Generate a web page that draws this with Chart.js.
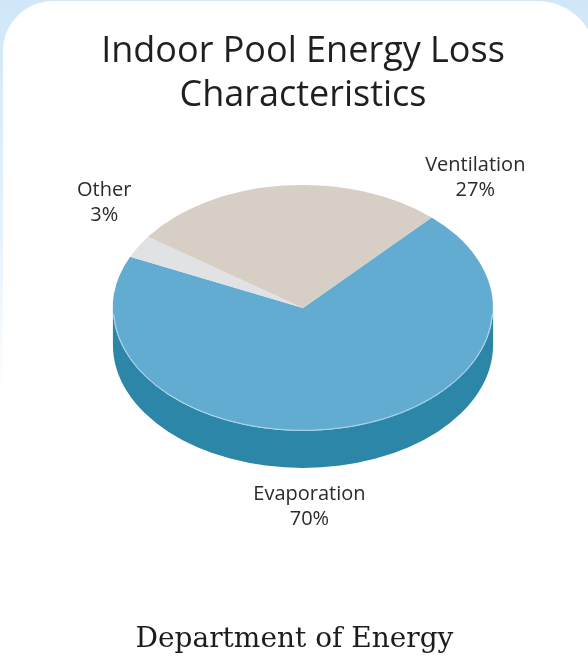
<!DOCTYPE html>
<html>
<head>
<meta charset="utf-8">
<script src="https://cdn.jsdelivr.net/npm/chart.js@4.4.1/dist/chart.umd.min.js"></script>
<style>
  html, body { margin: 0; padding: 0; }
  body {
    width: 588px; height: 666px; overflow: hidden; position: relative;
    background: linear-gradient(to bottom, #cfe7f8 0%, #e6f2fb 35%, #ffffff 60%);
  }
  .card {
    position: absolute; left: 3px; top: 1px; width: 594px; height: 700px;
    background: #ffffff; border-radius: 50px 60px 0 0;
  }
  canvas { position: absolute; left: 0; top: 0; }
  .source {
    position: absolute; left: 0; top: 624px; width: 589px; text-align: center;
    font: 28px/28px "DejaVu Serif", serif; color: #1c1c1c;
  }
</style>
</head>
<body>
<div class="card"></div>
<canvas id="pie" width="588" height="666"></canvas>
<div class="source">Department of Energy</div>
<script>
// data
const labels = ['Evaporation', 'Other', 'Ventilation'];
const values = [70, 3, 27];

// look
const topColors = ['#62acd1', '#e1e2e4', '#d7cec5'];
const sideColors = ['#2c86a8', '#b9babd', '#b3a89d'];
const labelAngles = [88.5, 220, -50]; // degrees, where each label sits round the pie
const labelDistance = [1.29, 1.365, 1.41]; // in pie radii
const squash = 0.647;
const depth = 37;

const ctx = document.getElementById('pie').getContext('2d');

function ellipseOf(arc) {
  return { cx: arc.x, cy: arc.y, rx: arc.outerRadius, ry: arc.outerRadius * squash };
}

// draws the depth of the pie and squashes the top face
const tiltPie = {
  id: 'tiltPie',
  beforeDatasetsDraw(chart) {
    const c = chart.ctx;
    const arcs = chart.getDatasetMeta(0).data;
    const TWO = Math.PI * 2;
    arcs.forEach((arc, i) => {
      const e = ellipseOf(arc);
      let s = arc.startAngle % TWO;
      if (s < 0) s += TWO;
      const end = s + (arc.endAngle - arc.startAngle);
      [[0, Math.PI], [TWO, TWO + Math.PI]].forEach(([lo, hi]) => {
        const a0 = Math.max(s, lo), a1 = Math.min(end, hi);
        if (a1 <= a0) return;
        c.save();
        c.beginPath();
        c.ellipse(e.cx, e.cy + depth, e.rx, e.ry, 0, a0, a1);
        c.ellipse(e.cx, e.cy, e.rx, e.ry, 0, a1, a0, true);
        c.closePath();
        c.fillStyle = sideColors[i];
        c.fill();
        c.restore();
      });
    });
    const e = ellipseOf(arcs[0]);
    c.save();
    c.translate(e.cx, e.cy);
    c.scale(1, squash);
    c.translate(-e.cx, -e.cy);
  },
  afterDatasetsDraw(chart) {
    const c = chart.ctx;
    c.restore();
    const e = ellipseOf(chart.getDatasetMeta(0).data[0]);
    // soft rim where top meets side
    c.save();
    c.beginPath();
    c.ellipse(e.cx, e.cy, e.rx - 0.5, e.ry - 0.5, 0, 0.05, Math.PI - 0.05);
    c.strokeStyle = 'rgba(210,232,243,0.7)';
    c.lineWidth = 1;
    c.stroke();
    c.restore();
  }
};

// category name and share next to each slice
const sliceLabels = {
  id: 'sliceLabels',
  afterDraw(chart) {
    const c = chart.ctx;
    const arcs = chart.getDatasetMeta(0).data;
    const total = values.reduce((a, b) => a + b, 0);
    c.save();
    c.fillStyle = '#2b2b2b';
    c.textAlign = 'center';
    c.textBaseline = 'middle';
    c.font = '20px "Open Sans"';
    arcs.forEach((arc, i) => {
      const e = ellipseOf(arc);
      const a = labelAngles[i] * Math.PI / 180;
      const f = labelDistance[i];
      const x = e.cx + e.rx * f * Math.cos(a);
      const y = e.cy + e.ry * f * Math.sin(a) + (Math.sin(a) > 0 ? depth : 0);
      c.fillText(labels[i], x, y - 9.5);
      c.fillText(Math.round(values[i] / total * 100) + '%', x, y + 15.5);
    });
    c.restore();
  }
};

const data = {
  labels: labels,
  datasets: [{
    data: values,
    backgroundColor: topColors,
    borderWidth: 0,
    hoverOffset: 0
  }]
};

const config = {
  type: 'pie',
  data: data,
  options: {
    responsive: false,
    animation: false,
    rotation: 42.6,
    events: [],
    layout: { padding: { left: 18, right: 0, top: 0, bottom: 168 } },
    plugins: {
      legend: { display: false },
      tooltip: { enabled: false },
      title: {
        display: true,
        text: ['Indoor Pool Energy Loss', 'Characteristics'],
        color: '#1f1f1f',
        font: { family: 'Open Sans', size: 36, weight: 'normal', lineHeight: 1.22 },
        padding: { top: 30, bottom: 0 }
      }
    }
  },
  plugins: [tiltPie, sliceLabels]
};

const myChart = new Chart(ctx, config);
</script>
</body>
</html>
